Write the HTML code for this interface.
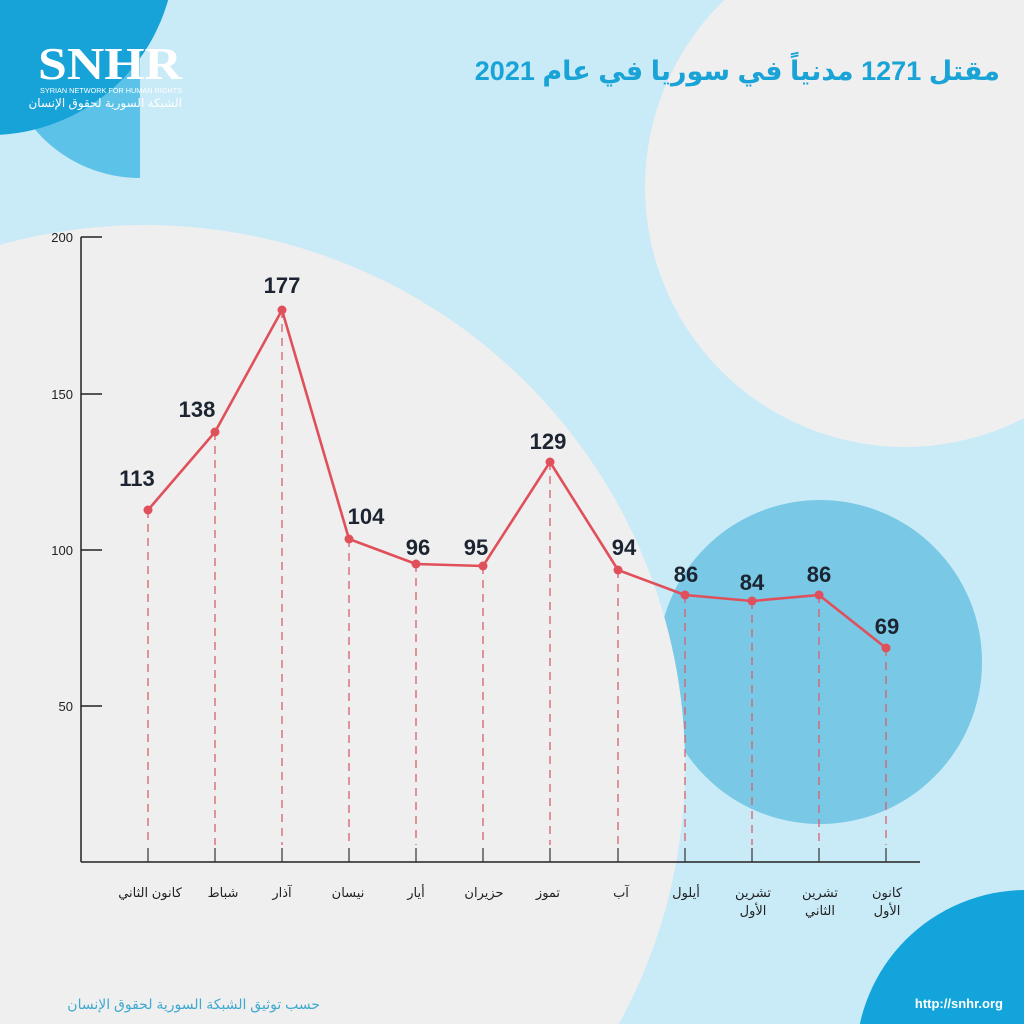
<!DOCTYPE html>
<html><head><meta charset="utf-8"><style>
html,body{margin:0;padding:0;width:1024px;height:1024px;overflow:hidden;background:#c9eaf7;position:relative}
svg{display:block;position:absolute;left:0;top:0}
</style></head><body>
<svg width="1024" height="1024" viewBox="0 0 1024 1024" xmlns="http://www.w3.org/2000/svg" font-family="'Liberation Sans','Noto Sans CJK SC',sans-serif">
<rect width="1024" height="1024" fill="#c9eaf7"/>
<circle cx="905" cy="187" r="260" fill="#efefef"/>
<circle cx="820" cy="662" r="162" fill="#78c8e6"/>
<circle cx="145" cy="765" r="540" fill="#efefef"/>
<circle cx="1026" cy="1060" r="170" fill="#12a4da"/>
<clipPath id="c1"><rect x="0" y="0" width="140" height="200"/></clipPath>
<circle cx="140" cy="40" r="138" fill="#5cc2e8" clip-path="url(#c1)"/>
<circle cx="-10" cy="-50" r="185" fill="#17a2d8"/>
<text x="38" y="79" font-family="'Liberation Serif',serif" font-size="46" font-weight="bold" fill="#fff" textLength="144" lengthAdjust="spacingAndGlyphs">SNHR</text>
<text x="40" y="93" font-size="7.5" fill="#fff" textLength="142" lengthAdjust="spacingAndGlyphs">SYRIAN NETWORK FOR HUMAN RIGHTS</text>
<text x="182" y="107" font-size="12" fill="#fff" text-anchor="end" font-family="'Liberation Sans','DejaVu Sans',sans-serif">الشبكة السورية لحقوق الإنسان</text>
<text x="1000" y="80" font-size="27" font-weight="bold" fill="#1aa3d6" text-anchor="end" font-family="'Liberation Sans','DejaVu Sans',sans-serif">مقتل 1271 مدنياً في سوريا في عام 2021</text>
<g stroke="#222" stroke-width="1.5" fill="none">
<line x1="81" y1="237" x2="81" y2="862"/>
<line x1="81" y1="862" x2="920" y2="862"/>
<line x1="81" y1="237" x2="102" y2="237"/>
<line x1="81" y1="394" x2="102" y2="394"/>
<line x1="81" y1="550" x2="102" y2="550"/>
<line x1="81" y1="706" x2="102" y2="706"/>
</g>
<g font-size="13" fill="#222" text-anchor="end">
<text x="73" y="242">200</text><text x="73" y="399">150</text><text x="73" y="555">100</text><text x="73" y="711">50</text>
</g>
<g stroke="#d9606a" stroke-width="1.3" stroke-dasharray="8,6">
<line x1="148" y1="510" x2="148" y2="845"/><line x1="215" y1="432" x2="215" y2="845"/><line x1="282" y1="310" x2="282" y2="845"/><line x1="349" y1="539" x2="349" y2="845"/><line x1="416" y1="564" x2="416" y2="845"/><line x1="483" y1="566" x2="483" y2="845"/><line x1="550" y1="462" x2="550" y2="845"/><line x1="618" y1="570" x2="618" y2="845"/><line x1="685" y1="595" x2="685" y2="845"/><line x1="752" y1="601" x2="752" y2="845"/><line x1="819" y1="595" x2="819" y2="845"/><line x1="886" y1="648" x2="886" y2="845"/>
</g>
<g stroke="#333" stroke-width="1.2">
<line x1="148" y1="848" x2="148" y2="862"/><line x1="215" y1="848" x2="215" y2="862"/><line x1="282" y1="848" x2="282" y2="862"/><line x1="349" y1="848" x2="349" y2="862"/><line x1="416" y1="848" x2="416" y2="862"/><line x1="483" y1="848" x2="483" y2="862"/><line x1="550" y1="848" x2="550" y2="862"/><line x1="618" y1="848" x2="618" y2="862"/><line x1="685" y1="848" x2="685" y2="862"/><line x1="752" y1="848" x2="752" y2="862"/><line x1="819" y1="848" x2="819" y2="862"/><line x1="886" y1="848" x2="886" y2="862"/>
</g>
<polyline points="148,510 215,432 282,310 349,539 416,564 483,566 550,462 618,570 685,595 752,601 819,595 886,648" fill="none" stroke="#e0505a" stroke-width="2.6" stroke-linejoin="round"/>
<g fill="#e0505a">
<circle cx="148" cy="510" r="4.5"/><circle cx="215" cy="432" r="4.5"/><circle cx="282" cy="310" r="4.5"/><circle cx="349" cy="539" r="4.5"/><circle cx="416" cy="564" r="4.5"/><circle cx="483" cy="566" r="4.5"/><circle cx="550" cy="462" r="4.5"/><circle cx="618" cy="570" r="4.5"/><circle cx="685" cy="595" r="4.5"/><circle cx="752" cy="601" r="4.5"/><circle cx="819" cy="595" r="4.5"/><circle cx="886" cy="648" r="4.5"/>
</g>
<g font-size="22" font-weight="bold" fill="#1b2430" text-anchor="middle">
<text x="137" y="486">113</text><text x="197" y="417">138</text><text x="282" y="293">177</text><text x="366" y="524">104</text><text x="418" y="555">96</text><text x="476" y="555">95</text><text x="548" y="449">129</text><text x="624" y="555">94</text><text x="686" y="582">86</text><text x="752" y="590">84</text><text x="819" y="582">86</text><text x="887" y="634">69</text>
</g>
<g font-size="13" fill="#222" text-anchor="middle" font-family="'Liberation Sans','DejaVu Sans',sans-serif">
<text x="150" y="897">كانون الثاني</text><text x="223" y="897">شباط</text><text x="282" y="897">آذار</text><text x="348" y="897">نيسان</text><text x="416" y="897">أيار</text><text x="484" y="897">حزيران</text><text x="548" y="897">تموز</text><text x="621" y="897">آب</text><text x="686" y="897">أيلول</text>
<text x="753" y="897">تشرين</text><text x="753" y="915">الأول</text>
<text x="820" y="897">تشرين</text><text x="820" y="915">الثاني</text>
<text x="887" y="897">كانون</text><text x="887" y="915">الأول</text>
</g>
<text x="320" y="1009" font-size="14" fill="#3fa9cf" text-anchor="end" font-family="'Liberation Sans','DejaVu Sans',sans-serif">حسب توثيق الشبكة السورية لحقوق الإنسان</text>
<text x="1003" y="1008" font-size="13" font-weight="bold" fill="#fff" text-anchor="end">http://snhr.org</text>
</svg>
</body></html>
